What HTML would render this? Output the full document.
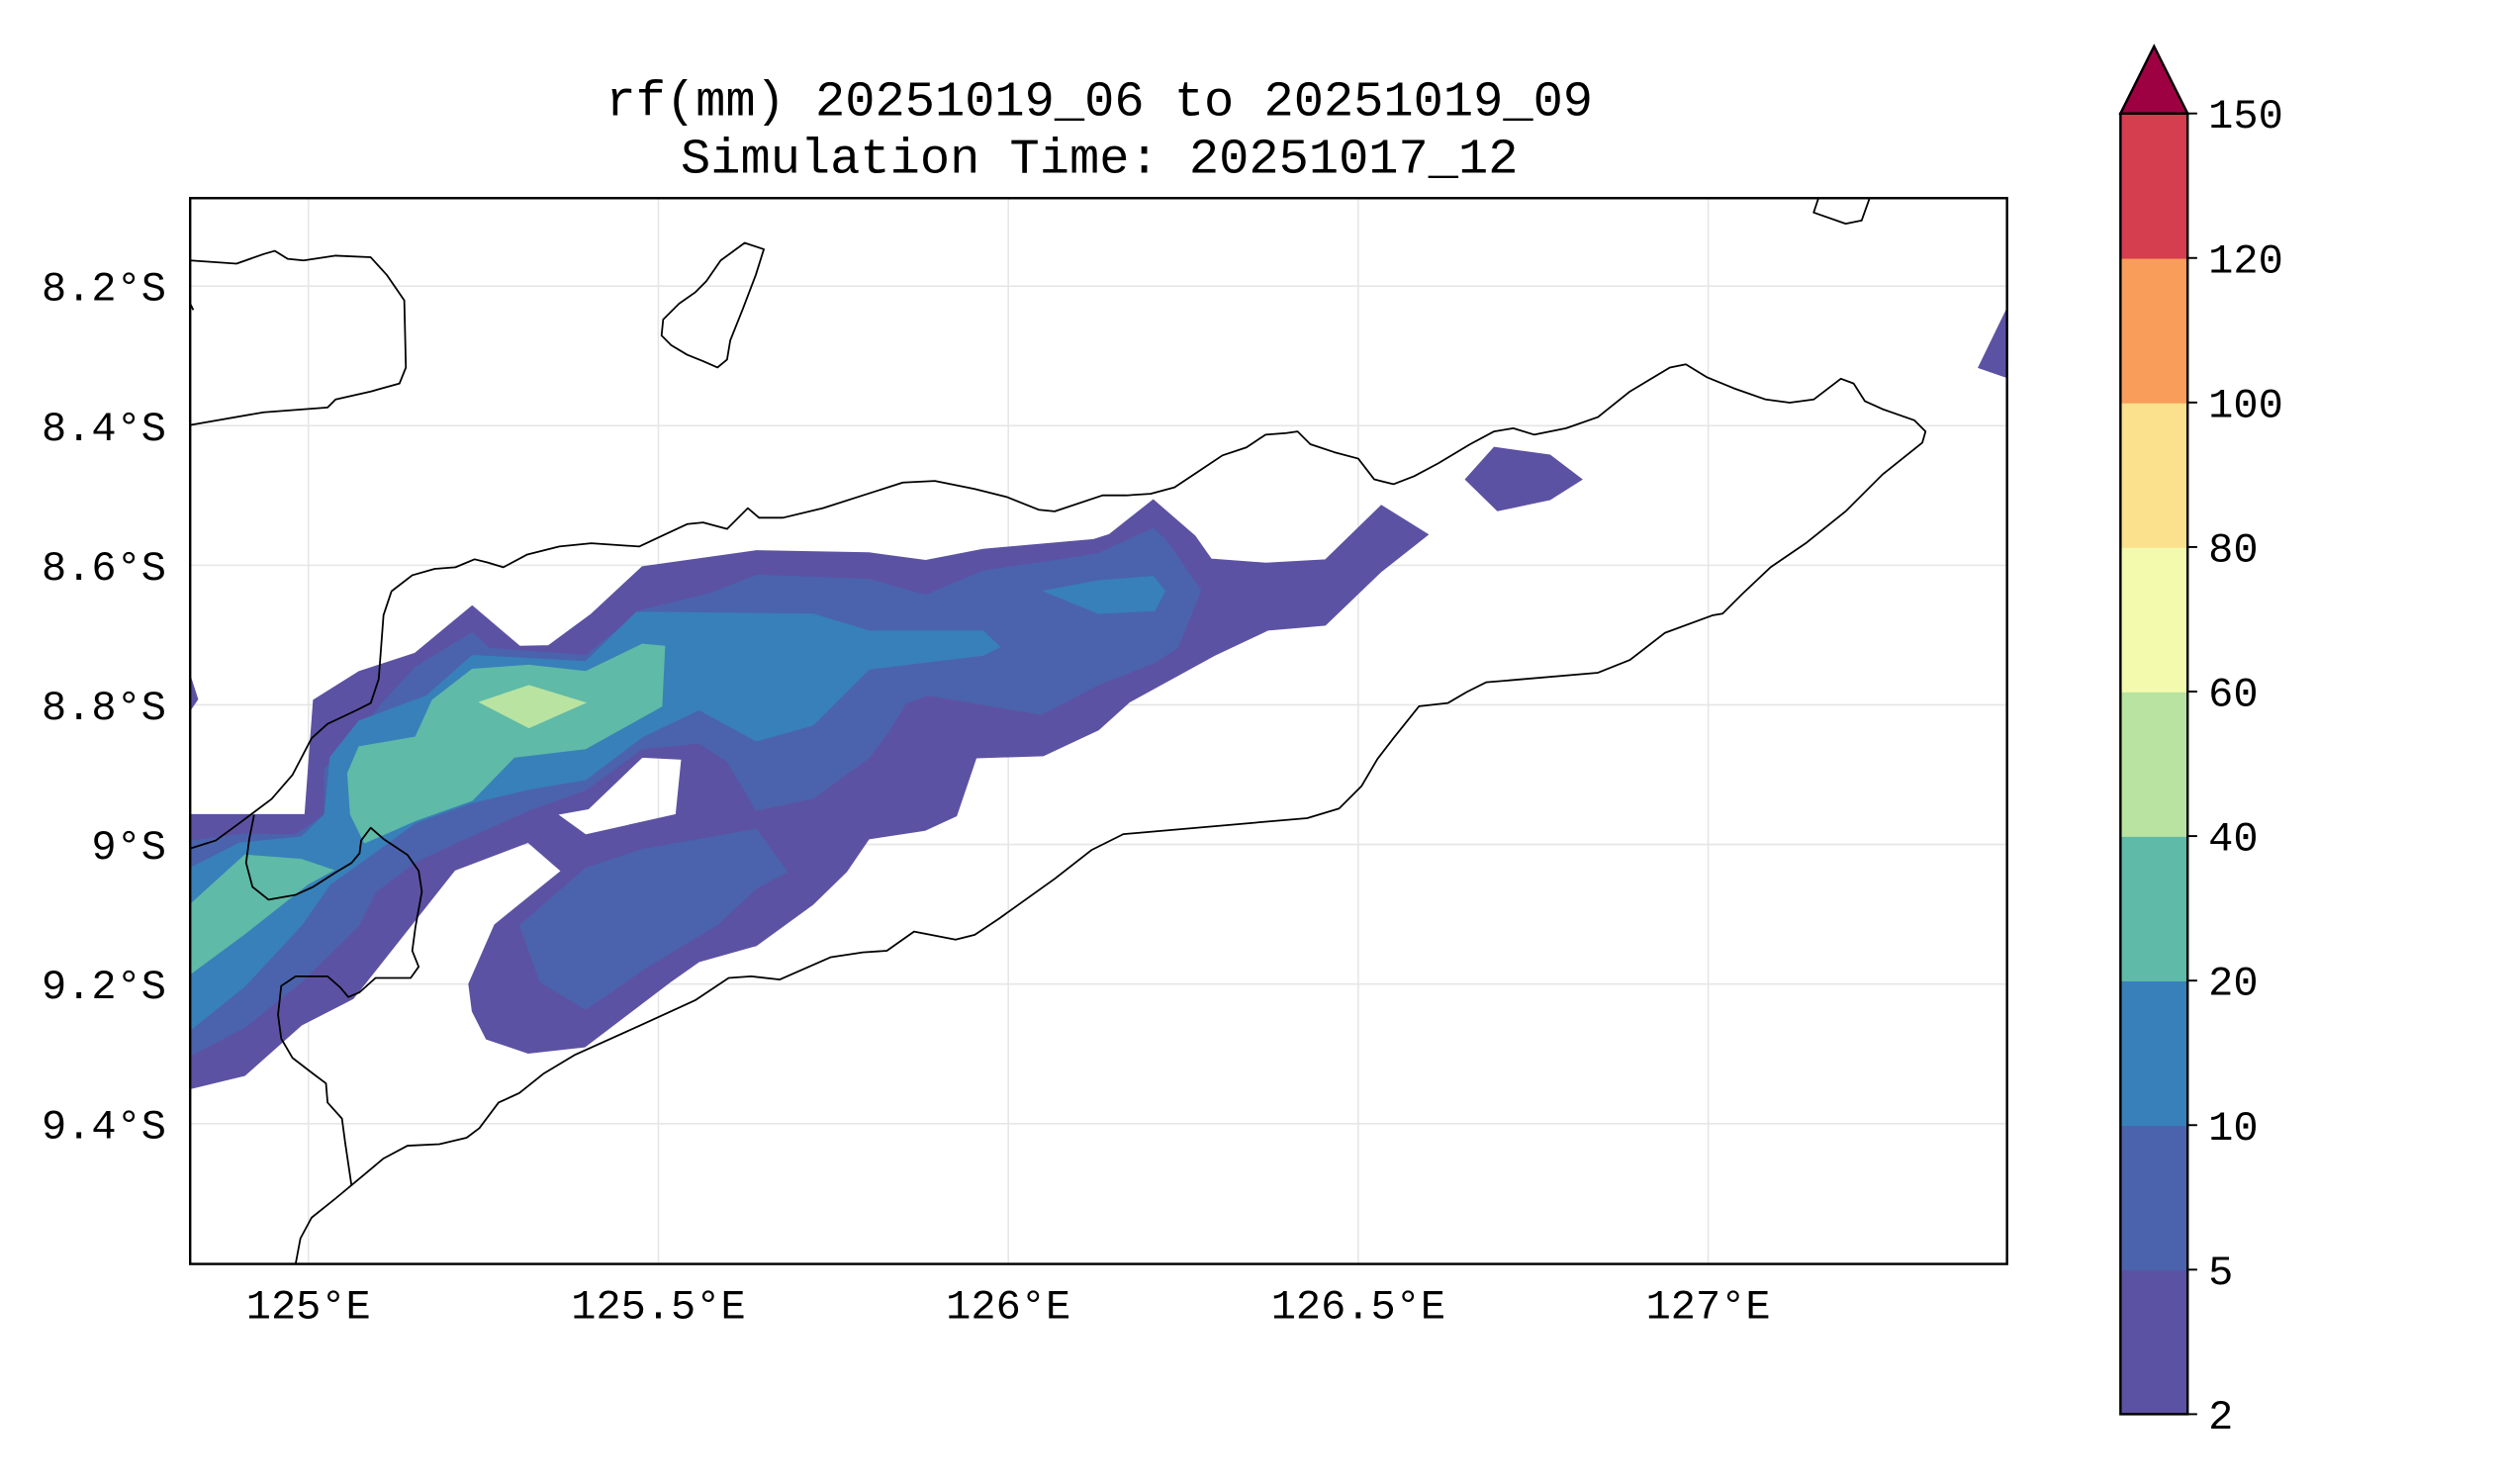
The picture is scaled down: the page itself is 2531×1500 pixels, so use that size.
<!DOCTYPE html>
<html><head><meta charset="utf-8"><style>
html,body{margin:0;padding:0;background:#fff;}
svg{display:block;}
text{font-family:"Liberation Mono","DejaVu Sans Mono",monospace;fill:#000;}
</style></head><body>
<svg id="chart" xmlns="http://www.w3.org/2000/svg" width="2531" height="1500" viewBox="0 0 1567 928.7" preserveAspectRatio="none">
<defs><clipPath id="plotclip"><rect x="119" y="124" width="1137" height="667"/></clipPath></defs>
<g id="title">
<text x="688" y="72" font-size="31.2" text-anchor="middle">rf(mm) 20251019_06 to 20251019_09</text>
<text x="688" y="108" font-size="31.2" text-anchor="middle">Simulation Time: 20251017_12</text>
</g>
<g id="grid"></g>
<g id="contours" clip-path="url(#plotclip)"></g>
<g id="coast" clip-path="url(#plotclip)" fill="none" stroke="#000" stroke-width="1.1" stroke-linejoin="round">
<path d="M119,531 L135,526 150,515 170,500 183,485 195,462 205,453 222,445 232,440 237,425 240,385 245,370 258,360 272,356 285,355 297,350 305,352 315,355 330,347 350,342 370,340 400,342 415,335 430,328 440,327 455,331 468,318 475,324 490,324 515,318 540,310 565,302 585,301 610,306 630,311 650,319 660,320 690,310 705,310 720,309 735,305 750,295 765,285 780,280 792,272 805,271 812,270 820,278 835,283 850,287 860,300 872,303 885,298 900,290 920,278 935,270 947,268 960,272 980,268 1000,261 1020,245 1045,230 1055,228 1068,236 1085,243 1105,250 1120,252 1135,250 1152,237 1160,240 1167,251 1178,256 1198,263 1205,270 1203,277 1178,297 1155,320 1130,340 1108,355 1090,372 1078,384 1072,385 1042,396 1020,413 1000,421 930,427 918,433 906,440 888,442 872,462 862,475 852,492 838,506 818,512 703,522 683,532 660,550 625,575 610,585 598,588 572,583 555,595 540,596 520,599 488,613 470,611 456,612 435,626 400,642 360,660 340,672 325,684 312,690 300,706 292,712 275,716 255,717 240,725 228,735 210,750 195,762 188,775 185,791"/>
<path d="M220,742 L216,715 214,700 205,690 204,678 196,672 183,662 176,650 174,635 176,617 185,611 205,611 213,618 218,624 225,621 235,612 257,612 262,605 258,595 260,580 264,558 262,545 255,535 240,525 232,518 226,526 225,534 220,540 210,546 196,555 185,560 168,563 158,555 154,540 156,525 159,510"/>
<path d="M119,163 L148,165 165,159 172,157 180,162 190,163 210,160 232,161 242,172 253,188 254,230 250,240 232,245 210,250 205,255 165,258 119,266"/>
<path d="M466,152 L478,156 473,172 465,193 457,213 455,225 449,230 440,226 430,222 420,216 414,210 415,200 425,190 435,183 442,176 451,163 Z"/>
<path d="M1138,124 L1135,133 1155,140 1165,138 1170,124"/>
<path d="M119,190 L121,194"/>
</g>
<rect x="119" y="124" width="1137" height="667" fill="none" stroke="#000" stroke-width="1.5"/>
<g id="xticks"></g>
<g id="yticks"></g>
<g id="cbar"></g>
</svg>
<script>
const lonTicks = [125, 125.5, 126, 126.5, 127];
const lonLabels = ["125°E", "125.5°E", "126°E", "126.5°E", "127°E"];
const latTicks = [8.2, 8.4, 8.6, 8.8, 9.0, 9.2, 9.4];
const latLabels = ["8.2°S", "8.4°S", "8.6°S", "8.8°S", "9°S", "9.2°S", "9.4°S"];
const levels = [2, 5, 10, 20, 40, 60, 80, 100, 120, 150];
const levelColors = ["#5c52a3", "#4b63ad", "#3880b9", "#5fbaa7", "#b9e3a0", "#f3faae", "#fbe08d", "#f99d5a", "#d53e4f"];
const extendColor = "#9e0142";

// contour rings [lon, lat(°S)] per level
const level2Main = [[124.831,8.957],[124.995,8.957],[125.007,8.793],[125.072,8.752],[125.152,8.726],[125.234,8.658],[125.302,8.716],[125.343,8.715],[125.404,8.670],[125.477,8.602],[125.640,8.579],[125.801,8.582],[125.882,8.593],[125.964,8.577],[126.122,8.563],[126.144,8.556],[126.207,8.506],[126.267,8.558],[126.290,8.591],[126.368,8.597],[126.453,8.592],[126.533,8.514],[126.600,8.556],[126.533,8.609],[126.453,8.686],[126.371,8.693],[126.295,8.729],[126.173,8.796],[126.129,8.836],[126.050,8.873],[125.954,8.876],[125.926,8.959],[125.881,8.980],[125.801,8.992],[125.769,9.039],[125.721,9.086],[125.640,9.145],[125.558,9.168],[125.517,9.197],[125.395,9.290],[125.314,9.299],[125.254,9.279],[125.234,9.239],[125.229,9.200],[125.266,9.115],[125.361,9.038],[125.314,8.997],[125.209,9.037],[125.064,9.221],[124.990,9.259],[124.909,9.331],[124.831,9.350]];
const level2Hole = [[125.477,8.875],[125.533,8.878],[125.525,8.957],[125.396,8.986],[125.356,8.957],[125.400,8.949]];
const level2Bump = [[124.831,8.758],[124.842,8.792],[124.831,8.808]];
const level2East = [[126.653,8.477],[126.694,8.431],[126.774,8.442],[126.820,8.477],[126.774,8.506],[126.699,8.522]];
const level2Edge = [[127.45,8.190],[127.45,8.339],[127.386,8.317],[127.427,8.232]];
const level5Main = [[124.831,8.995],[124.909,8.985],[124.982,8.986],[125.023,8.957],[125.023,8.892],[125.068,8.846],[125.104,8.799],[125.153,8.746],[125.234,8.696],[125.258,8.719],[125.396,8.729],[125.477,8.664],[125.575,8.640],[125.640,8.614],[125.801,8.620],[125.882,8.643],[125.964,8.608],[126.100,8.588],[126.129,8.583],[126.207,8.547],[126.226,8.565],[126.275,8.636],[126.242,8.718],[126.210,8.739],[126.129,8.771],[126.047,8.814],[125.885,8.786],[125.853,8.798],[125.832,8.834],[125.801,8.876],[125.721,8.934],[125.640,8.951],[125.599,8.882],[125.558,8.855],[125.477,8.863],[125.396,8.922],[125.315,8.951],[125.217,8.995],[125.153,9.025],[125.096,9.068],[125.072,9.116],[124.990,9.197],[124.909,9.262],[124.831,9.303]];
const level5South = [[125.302,9.116],[125.396,9.034],[125.477,9.007],[125.640,8.978],[125.684,9.039],[125.640,9.063],[125.583,9.116],[125.486,9.174],[125.396,9.236],[125.331,9.197]];
const level10Main = [[124.831,9.034],[124.901,8.998],[124.990,8.989],[125.023,8.957],[125.031,8.875],[125.072,8.823],[125.169,8.787],[125.234,8.729],[125.396,8.738],[125.469,8.667],[125.721,8.670],[125.801,8.694],[125.964,8.694],[125.988,8.717],[125.964,8.729],[125.801,8.749],[125.721,8.829],[125.640,8.852],[125.558,8.807],[125.477,8.846],[125.396,8.907],[125.315,8.921],[125.234,8.940],[125.153,8.969],[125.072,9.028],[125.031,9.057],[124.990,9.116],[124.909,9.203],[124.831,9.266]];
const level10East = [[126.050,8.637],[126.129,8.622],[126.207,8.616],[126.224,8.637],[126.209,8.665],[126.129,8.669]];
const level20Main = [[125.072,8.860],[125.153,8.846],[125.177,8.793],[125.234,8.749],[125.315,8.743],[125.396,8.752],[125.477,8.713],[125.509,8.716],[125.505,8.802],[125.396,8.863],[125.294,8.875],[125.234,8.937],[125.153,8.966],[125.080,8.998],[125.060,8.957],[125.056,8.898]];
const level20West = [[124.831,9.086],[124.909,9.015],[124.990,9.021],[125.036,9.037],[124.999,9.057],[124.909,9.128],[124.831,9.186]];
const level40Peak = [[125.244,8.796],[125.315,8.772],[125.396,8.797],[125.315,8.833]];

const contourSets = [
  {lvl:0, name:'contour-2-5mm', rings:[[level2Main, level2Hole], [level2Bump], [level2East], [level2Edge]]},
  {lvl:1, name:'contour-5-10mm', rings:[[level5Main], [level5South]]},
  {lvl:2, name:'contour-10-20mm', rings:[[level10Main], [level10East]]},
  {lvl:3, name:'contour-20-40mm', rings:[[level20Main], [level20West]]},
  {lvl:4, name:'contour-40-60mm', rings:[[level40Peak]]}
];

const NS = 'http://www.w3.org/2000/svg';
const lonMin = 124.831, lonMax = 127.427, latMin = 8.074, latMax = 9.601;
const px0 = 119, px1 = 1256, py0 = 124, py1 = 791;
function xScale(lon){ return px0 + (lon - lonMin) / (lonMax - lonMin) * (px1 - px0); }
function yScale(lat){ return py0 + (lat - latMin) / (latMax - latMin) * (py1 - py0); }
const cbTop = 71, cbBot = 885, cbX = 1327, cbW = 42;
function cbScale(i){ return cbBot - i * (cbBot - cbTop) / (levels.length - 1); }

function mk(tag, attrs, parent){
  const e = document.createElementNS(NS, tag);
  for (const k in attrs) e.setAttribute(k, attrs[k]);
  parent.appendChild(e);
  return e;
}

const grid = document.getElementById('grid');
lonTicks.forEach(v => {
  const l = mk('line', {x1:xScale(v), x2:xScale(v), y1:py0, y2:py1, stroke:'#e6e6e6', 'stroke-width':1}, grid);
  
  
});
latTicks.forEach(v => {
  const l = mk('line', {x1:px0, x2:px1, y1:yScale(v), y2:yScale(v), stroke:'#e6e6e6', 'stroke-width':1}, grid);
  
  
});

const cg = document.getElementById('contours');
contourSets.forEach(set => {
  set.rings.forEach(group => {
    let d = '';
    group.forEach(ring => {
      d += 'M' + ring.map(p => xScale(p[0]).toFixed(1) + ',' + yScale(p[1]).toFixed(1)).join(' L') + ' Z ';
    });
    const p = mk('path', {d:d, fill:levelColors[set.lvl], 'fill-rule':'evenodd', stroke:levelColors[set.lvl], 'stroke-width':0.5}, cg);
    
    
  });
});

const xt = document.getElementById('xticks');
lonTicks.forEach((v, i) => {
  const t = mk('text', {x:xScale(v), y:825, 'font-size':26, 'text-anchor':'middle'}, xt);
  t.textContent = lonLabels[i];
  
  
});
const yt = document.getElementById('yticks');
latTicks.forEach((v, i) => {
  const t = mk('text', {x:104, y:yScale(v) + 9, 'font-size':26, 'text-anchor':'end'}, yt);
  t.textContent = latLabels[i];
  
  
});

const cb = document.getElementById('cbar');
levelColors.forEach((c, i) => {
  const r = mk('rect', {x:cbX, y:cbScale(i+1), width:cbW, height:cbScale(i) - cbScale(i+1) + 0.5, fill:c}, cb);
  
  
});
const tri = mk('polygon', {points: cbX + ',' + cbTop + ' ' + (cbX + cbW/2) + ',29 ' + (cbX + cbW) + ',' + cbTop, fill:extendColor, stroke:'#000', 'stroke-width':1.5}, cb);


const cbo = mk('rect', {x:cbX, y:cbTop, width:cbW, height:cbBot - cbTop, fill:'none', stroke:'#000', 'stroke-width':1.5}, cb);


levels.forEach((v, i) => {
  const y = cbScale(i);
  const tk = mk('line', {x1:cbX + cbW, x2:cbX + cbW + 6, y1:y, y2:y, stroke:'#000', 'stroke-width':1.2}, cb);
  
  
  const t = mk('text', {x:1382, y:y + 9, 'font-size':26}, cb);
  t.textContent = String(v);
  
  
});
</script>
</body></html>
